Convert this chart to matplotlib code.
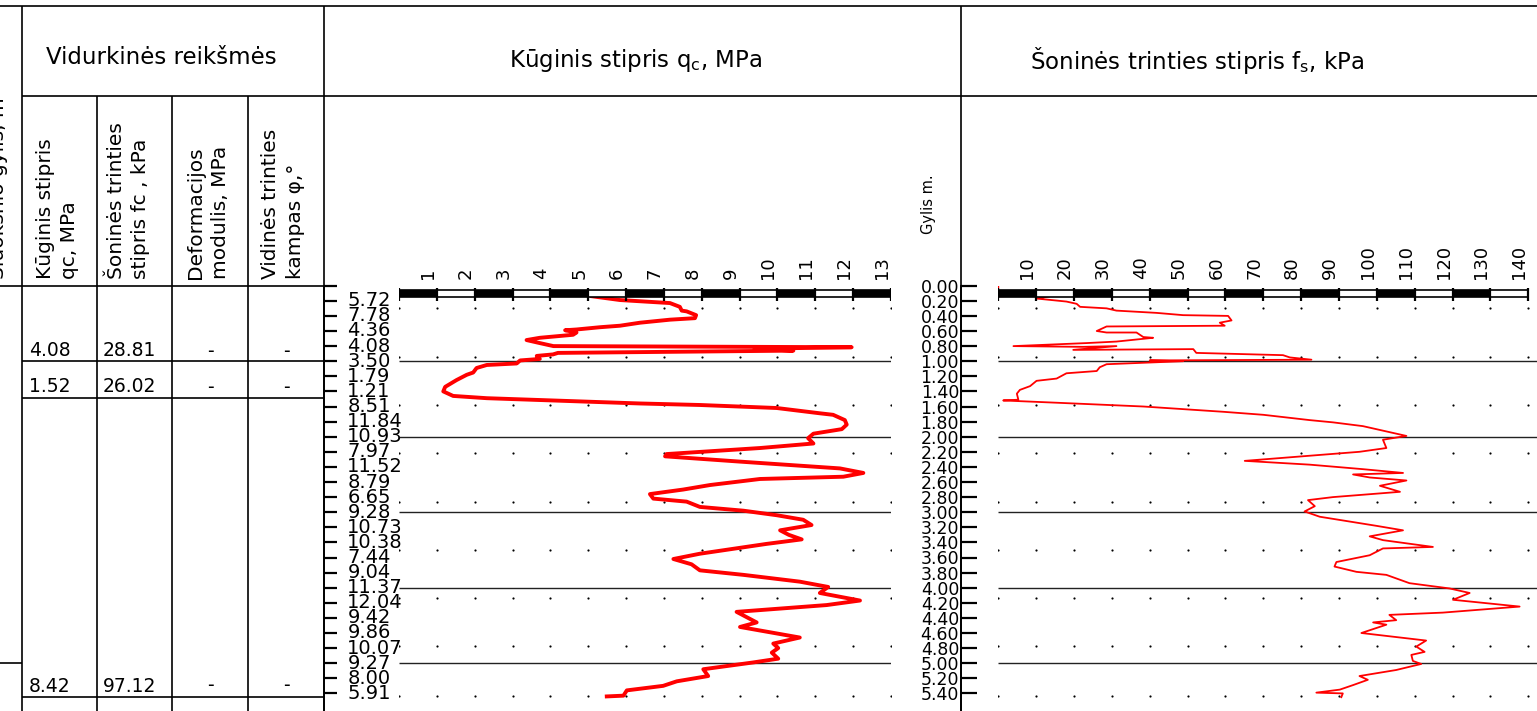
import numpy as np
import matplotlib.pyplot as plt

W, H = 1537, 711

# cone resistance qc (MPa) vs depth (m)
qc_depth = [0.14, 0.19, 0.23, 0.28, 0.33, 0.34, 0.39, 0.43, 0.45, 0.49, 0.53, 0.55, 0.58, 0.59,
            0.62, 0.65, 0.69, 0.72, 0.76, 0.80, 0.815, 0.835, 0.86, 0.89, 0.91, 0.93, 0.97, 0.99,
            1.03, 1.05, 1.09, 1.15, 1.18, 1.25, 1.34, 1.40, 1.46, 1.49, 1.56, 1.58, 1.62, 1.69,
            1.71, 1.78, 1.84, 1.90, 1.96, 2.02, 2.09, 2.15, 2.23, 2.26, 2.33, 2.42, 2.48, 2.53,
            2.56, 2.64, 2.70, 2.76, 2.82, 2.86, 2.93, 2.98, 3.04, 3.10, 3.17, 3.24, 3.30, 3.36,
            3.42, 3.55, 3.62, 3.69, 3.77, 3.83, 3.92, 3.99, 4.07, 4.17, 4.23, 4.32, 4.46, 4.52,
            4.66, 4.74, 4.80, 4.86, 4.94, 4.99, 5.08, 5.17, 5.24, 5.30, 5.36, 5.43, 5.44]
qc_val = [5.10, 5.84, 7.16, 7.42, 7.47, 7.60, 7.85, 7.82, 7.16, 6.37, 5.84, 5.31, 4.69, 4.39,
          4.69, 4.60, 3.72, 3.37, 3.72, 4.08, 11.96, 9.40, 10.42, 4.20, 4.07, 3.64, 3.72, 3.20,
          3.11, 2.32, 2.05, 1.96, 1.79, 1.52, 1.22, 1.17, 1.43, 2.32, 6.37, 7.95, 9.98, 11.12,
          11.47, 11.78, 11.83, 11.70, 10.95, 10.81, 10.95, 9.54, 7.07, 7.03, 9.01, 11.65, 12.27, 11.74,
          9.54, 8.22, 7.51, 6.63, 6.72, 7.60, 7.95, 9.10, 9.98, 10.68, 10.90, 10.07, 10.30, 10.64,
          9.71, 7.95, 7.25, 7.73, 7.95, 9.10, 10.59, 11.34, 11.12, 12.18, 11.30, 8.92, 9.45, 9.01,
          10.59, 9.89, 10.02, 9.85, 10.02, 9.36, 8.04, 8.17, 7.34, 6.98, 6.02, 5.93, 5.49]

# sleeve friction fs (kPa) vs depth (m)
fs_depth = [0.0, 0.14, 0.13, 0.14, 0.17, 0.21, 0.24, 0.28, 0.30, 0.33, 0.36, 0.39, 0.40, 0.46,
            0.49, 0.53, 0.54, 0.60, 0.62, 0.62, 0.68, 0.69, 0.74, 0.76, 0.80, 0.81, 0.80, 0.85,
            0.84, 0.89, 0.92, 0.95, 0.98, 0.99, 1.00, 1.04, 1.08, 1.13, 1.16, 1.23, 1.26, 1.33,
            1.38, 1.43, 1.51, 1.52, 1.55, 1.60, 1.67, 1.71, 1.78, 1.81, 1.86, 1.99, 2.04, 2.15,
            2.20, 2.32, 2.37, 2.43, 2.48, 2.50, 2.54, 2.58, 2.65, 2.73, 2.80, 2.84, 2.92, 2.99,
            3.06, 3.18, 3.24, 3.32, 3.37, 3.46, 3.48, 3.57, 3.66, 3.72, 3.79, 3.83, 3.94, 4.01,
            4.07, 4.16, 4.25, 4.33, 4.36, 4.43, 4.46, 4.49, 4.60, 4.70, 4.78, 4.85, 4.89, 4.97,
            5.01, 5.09, 5.17, 5.22, 5.29, 5.35, 5.39, 5.40, 5.45]
fs_val = [0.0, 0.0, 10.1, 13.6, 10.1, 18.0, 20.7, 21.6, 28.6, 31.2, 41.8, 48.8, 60.7, 61.6,
          58.5, 59.8, 28.6, 26.0, 28.6, 36.5, 38.3, 40.9, 31.2, 23.3, 4.0, 22.4, 31.2, 19.8,
          51.5, 52.3, 75.2, 77.0, 82.7, 40.0, 48.8, 28.6, 26.8, 26.0, 18.0, 15.4, 10.1, 8.4,
          5.7, 4.9, 5.3, 1.3, 15.4, 38.3, 59.4, 70.0, 82.2, 88.4, 96.3, 107.8, 101.6, 102.5,
          95.4, 65.1, 82.2, 96.3, 106.9, 93.7, 98.1, 107.8, 100.8, 106.1, 88.4, 81.8, 83.6, 80.9,
          84.9, 99.8, 106.9, 98.1, 101.6, 114.8, 101.6, 98.1, 89.3, 88.8, 94.6, 102.5, 108.6, 119.2,
          124.5, 120.1, 137.7, 117.4, 103.3, 105.1, 99.0, 102.5, 95.9, 113.0, 110.4, 112.6, 109.1, 109.5,
          111.7, 105.1, 95.4, 97.6, 93.7, 90.2, 84.0, 91.0, 90.6]

depth_ticks = [round(0.2 * i, 2) for i in range(28)]
qc_tick_labels = ['5.72', '7.78', '4.36', '4.08', '3.50', '1.79', '1.21', '8.51', '11.84',
                  '10.93', '7.97', '11.52', '8.79', '6.65', '9.28', '10.73', '10.38', '7.44',
                  '9.04', '11.37', '12.04', '9.42', '9.86', '10.07', '9.27', '8.00', '5.91']
dot_depths = [0.30, 0.95, 1.58, 2.22, 2.86, 3.50, 4.13, 4.77, 5.43]
layer_lines = [1, 2, 3, 4, 5]
qc_scale = list(range(14))
fs_scale = list(range(0, 150, 10))

avg_qc = ['4.08', '1.52', '8.42']
avg_fs = ['28.81', '26.02', '97.12']
avg_E = ['-', '-', '-']
avg_phi = ['-', '-', '-']

plt.rcParams['font.family'] = ['DejaVu Sans']
fig = plt.figure(figsize=(W / 100, H / 100), dpi=100)

def box(l, t, r, b):
  return [l / W, 1 - b / H, (r - l) / W, (b - t) / H]

PT = 0.72  # points per pixel
D0 = 285.7
PXM = 75.5
D_BOT = (H - D0) / PXM

# ---- table frame in pixel coordinates
ov = fig.add_axes([0, 0, 1, 1])
ov.axis('off')
def hl(y, x0, x1):
  ov.plot([x0, x1], [y, y], color='k', lw=1.2, solid_capstyle='butt')
def vl(x, y0, y1):
  ov.plot([x, x], [y0, y1], color='k', lw=1.2, solid_capstyle='butt')

hl(5.5, 0, W)
hl(96, 22, W)
hl(286, 0, 323.5)
hl(361, 22, 323.5)
hl(398, 22, 323.5)
hl(663, 0, 22)
hl(697, 22, 323.5)
vl(22, 5.5, H)
vl(323.5, 5.5, H)
vl(960.5, 5.5, H)
for x in [97, 172, 247.5]:
  vl(x, 96, H)
ov.set_xlim(0, W)
ov.set_ylim(H, 0)

ov.text(161, 58, 'Vidurkinės reikšmės', ha='center', va='center', fontsize=16.5)
ov.text(636, 60, 'Kūginis stipris q$_\\mathrm{c}$, MPa', ha='center', va='center', fontsize=16.5)
ov.text(1197, 60, 'Šoninės trinties stipris f$_\\mathrm{s}$, kPa', ha='center', va='center', fontsize=16.5)

sub_heads = ['Kūginis stipris\nqc, MPa', 'Šoninės trinties\nstipris fc , kPa',
             'Deformacijos\nmodulis, MPa', 'Vidinės trinties\nkampas φ,°']
for cx, s in zip([57.5, 128.5, 208, 283], sub_heads):
  ov.text(cx, 279, s, rotation=90, ha='center', va='bottom', multialignment='left',
          fontsize=14.5, linespacing=1.35)
ov.text(8, 279, 'Sluoksnio gylis, m', rotation=90, ha='right', va='bottom', fontsize=14.5)

row_y = [351, 387, 686]
for i in range(3):
  ov.text(29, row_y[i], avg_qc[i], ha='left', va='center', fontsize=13.5)
  ov.text(103, row_y[i], avg_fs[i], ha='left', va='center', fontsize=13.5)
  ov.text(210, row_y[i], avg_E[i], ha='center', va='center', fontsize=13.5)
  ov.text(286, row_y[i], avg_phi[i], ha='center', va='center', fontsize=13.5)

ov.text(928, 204, 'Gylis m.', rotation=90, ha='center', va='center', fontsize=10.5)

# ---- qc plot
ax1 = fig.add_axes(box(399, D0, 891, H))
ax2 = fig.add_axes(box(998.3, D0, W, H))

def setup(ax, xmax, spine_px, tick_len):
  ax.set_xlim(0, xmax)
  ax.set_ylim(D_BOT, 0)
  ax.patch.set_visible(False)
  for s in ['top', 'right', 'bottom']:
    ax.spines[s].set_visible(False)
  ax.spines['left'].set_position(('outward', spine_px * PT))
  ax.spines['left'].set_linewidth(1.3)
  ax.set_xticks([])
  ax.set_yticks(depth_ticks)
  ax.tick_params(axis='y', direction='in', length=tick_len * PT, width=1.6)

setup(ax1, 13, 399 - 323.5, 13)
setup(ax2, (W - 998.3) / 3.786, 998.3 - 960.5, 16)
ax1.tick_params(axis='y', labelleft=False)
ax2.set_yticklabels(['%.2f' % d for d in depth_ticks], fontsize=12.5)
ax2.tick_params(axis='y', pad=1)

for d, lab in zip(depth_ticks[1:], qc_tick_labels):
  ax1.text(-0.105, d, lab, transform=ax1.get_yaxis_transform(), ha='left', va='center',
           fontsize=14, clip_on=False)

def scale_bar(ax, marks, step):
  for i, m in enumerate(marks[:-1]):
    ax.barh(0.104, step, left=m, height=0.095, color='k' if i % 2 == 0 else 'w',
            edgecolor='k', lw=1.2, zorder=5)
  ax.vlines(marks, 0.03, 0.20, color='k', lw=1.6, zorder=6)
  for m in marks[1:]:
    ax.text(m, -0.09, str(m), rotation=90, ha='right', va='bottom', fontsize=13, clip_on=False)
  gx, gy = np.meshgrid(marks, dot_depths)
  ax.scatter(gx.ravel(), gy.ravel(), s=2.5, color='k', lw=0, zorder=2)

scale_bar(ax1, qc_scale, 1)
scale_bar(ax2, fs_scale, 10)
ax1.hlines(layer_lines, 0, 13, color='#222222', lw=1.0, zorder=2)
ax2.hlines(layer_lines, 0, (W - 998.3) / 3.786, color='#222222', lw=1.0, zorder=2)

ax1.plot(qc_val, qc_depth, color='red', lw=2.8, zorder=4, solid_joinstyle='round')
ax2.plot(fs_val, fs_depth, color='red', lw=1.3, zorder=4)

plt.savefig('out.png', dpi=100)
